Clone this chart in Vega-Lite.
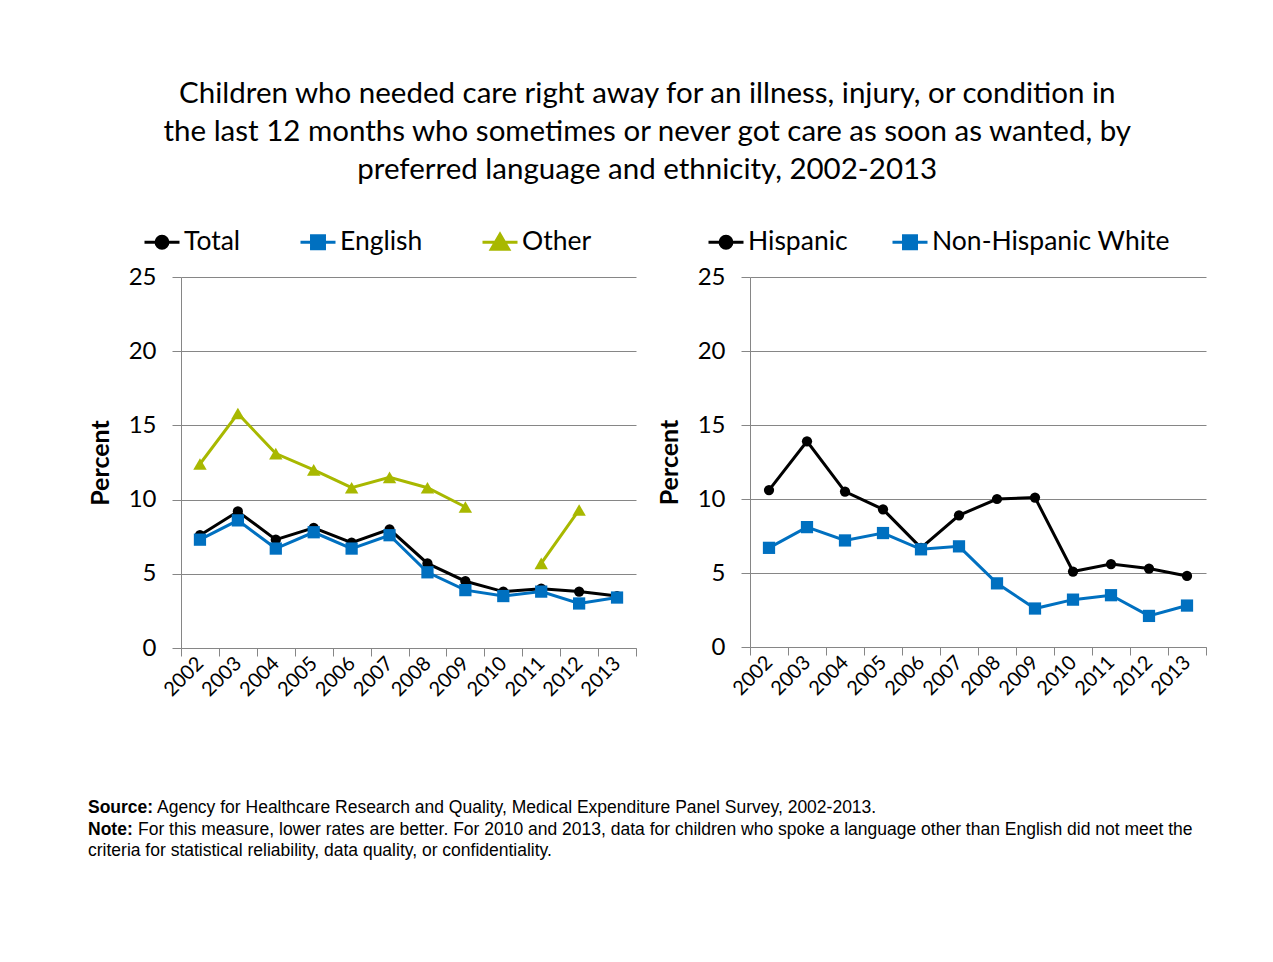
{
  "$schema": "https://vega.github.io/schema/vega-lite/v6.json",
  "background": "white",
  "padding": {"left": 88, "top": 78, "right": 10, "bottom": 10},
  "title": {
    "text": [
      "Children who needed care right away for an illness, injury, or condition in",
      "the last 12 months who sometimes or never got care as soon as wanted, by",
      "preferred language and ethnicity, 2002-2013"
    ],
    "font": "Lato",
    "fontSize": 29.5,
    "fontWeight": "normal",
    "color": "#000000",
    "anchor": "middle",
    "baseline": "top",
    "lineHeight": 38,
    "offset": 38
  },
  "config": {
    "view": {"stroke": null},
    "font": "Lato",
    "axis": {
      "labelFont": "Lato",
      "titleFont": "Lato",
      "labelColor": "#000000",
      "titleColor": "#000000",
      "gridColor": "#868686",
      "domainColor": "#868686",
      "tickColor": "#868686",
      "gridWidth": 1,
      "domainWidth": 1,
      "tickWidth": 1
    },
    "legend": {
      "labelFont": "Lato",
      "labelColor": "#000000"
    }
  },
  "datasets": {
    "language": [
      {"year": 2002, "series": "Total", "value": 7.6},
      {"year": 2003, "series": "Total", "value": 9.2},
      {"year": 2004, "series": "Total", "value": 7.3},
      {"year": 2005, "series": "Total", "value": 8.1},
      {"year": 2006, "series": "Total", "value": 7.1},
      {"year": 2007, "series": "Total", "value": 8.0},
      {"year": 2008, "series": "Total", "value": 5.7},
      {"year": 2009, "series": "Total", "value": 4.5},
      {"year": 2010, "series": "Total", "value": 3.8},
      {"year": 2011, "series": "Total", "value": 4.0},
      {"year": 2012, "series": "Total", "value": 3.8},
      {"year": 2013, "series": "Total", "value": 3.5},
      {"year": 2002, "series": "English", "value": 7.3},
      {"year": 2003, "series": "English", "value": 8.6},
      {"year": 2004, "series": "English", "value": 6.7},
      {"year": 2005, "series": "English", "value": 7.8},
      {"year": 2006, "series": "English", "value": 6.7},
      {"year": 2007, "series": "English", "value": 7.6},
      {"year": 2008, "series": "English", "value": 5.1},
      {"year": 2009, "series": "English", "value": 3.9},
      {"year": 2010, "series": "English", "value": 3.5},
      {"year": 2011, "series": "English", "value": 3.8},
      {"year": 2012, "series": "English", "value": 3.0},
      {"year": 2013, "series": "English", "value": 3.4},
      {"year": 2002, "series": "Other", "value": 12.4},
      {"year": 2003, "series": "Other", "value": 15.8},
      {"year": 2004, "series": "Other", "value": 13.1},
      {"year": 2005, "series": "Other", "value": 12.0},
      {"year": 2006, "series": "Other", "value": 10.8},
      {"year": 2007, "series": "Other", "value": 11.5},
      {"year": 2008, "series": "Other", "value": 10.8},
      {"year": 2009, "series": "Other", "value": 9.5},
      {"year": 2010, "series": "Other", "value": null},
      {"year": 2011, "series": "Other", "value": 5.7},
      {"year": 2012, "series": "Other", "value": 9.3},
      {"year": 2013, "series": "Other", "value": null}
    ],
    "ethnicity": [
      {"year": 2002, "series": "Hispanic", "value": 10.6},
      {"year": 2003, "series": "Hispanic", "value": 13.9},
      {"year": 2004, "series": "Hispanic", "value": 10.5},
      {"year": 2005, "series": "Hispanic", "value": 9.3},
      {"year": 2006, "series": "Hispanic", "value": 6.7},
      {"year": 2007, "series": "Hispanic", "value": 8.9},
      {"year": 2008, "series": "Hispanic", "value": 10.0},
      {"year": 2009, "series": "Hispanic", "value": 10.1},
      {"year": 2010, "series": "Hispanic", "value": 5.1},
      {"year": 2011, "series": "Hispanic", "value": 5.6},
      {"year": 2012, "series": "Hispanic", "value": 5.3},
      {"year": 2013, "series": "Hispanic", "value": 4.8},
      {"year": 2002, "series": "Non-Hispanic White", "value": 6.7},
      {"year": 2003, "series": "Non-Hispanic White", "value": 8.1},
      {"year": 2004, "series": "Non-Hispanic White", "value": 7.2},
      {"year": 2005, "series": "Non-Hispanic White", "value": 7.7},
      {"year": 2006, "series": "Non-Hispanic White", "value": 6.6},
      {"year": 2007, "series": "Non-Hispanic White", "value": 6.8},
      {"year": 2008, "series": "Non-Hispanic White", "value": 4.3},
      {"year": 2009, "series": "Non-Hispanic White", "value": 2.6},
      {"year": 2010, "series": "Non-Hispanic White", "value": 3.2},
      {"year": 2011, "series": "Non-Hispanic White", "value": 3.5},
      {"year": 2012, "series": "Non-Hispanic White", "value": 2.1},
      {"year": 2013, "series": "Non-Hispanic White", "value": 2.8}
    ]
  },
  "vconcat": [
    {
      "hconcat": [
        {
          "width": 455,
          "height": 371,
          "data": {"name": "language"},
          "layer": [
            {
              "mark": {"type": "line", "strokeWidth": 3, "invalid": "break-paths-show-domains"},
              "encoding": {
                "x": {
                  "field": "year", "type": "quantitative",
                  "scale": {"domain": [2001.5, 2013.5], "nice": false, "zero": false},
                  "axis": {
                    "orient": "bottom",
                    "values": [2001.5, 2002.5, 2003.5, 2004.5, 2005.5, 2006.5, 2007.5, 2008.5, 2009.5, 2010.5, 2011.5, 2012.5, 2013.5],
                    "labels": false, "grid": false, "domain": true, "ticks": true, "tickSize": 8, "title": null
                  }
                },
                "y": {
                  "field": "value", "type": "quantitative",
                  "scale": {"domain": [0, 25], "nice": false},
                  "axis": {
                    "values": [0, 5, 10, 15, 20, 25],
                    "grid": true, "title": "Percent", "titleFontSize": 25, "titleFontWeight": "bold",
                    "labelFontSize": 24, "tickSize": 9, "labelPadding": 16, "titlePadding": 15
                  }
                },
                "color": {
                  "field": "series", "type": "nominal",
                  "scale": {"domain": ["Total", "English", "Other"], "range": ["#000000", "#0070C0", "#A8B800"]},
                  "legend": {
                    "title": null, "orient": "none", "direction": "horizontal",
                    "legendX": -38, "legendY": -54,
                    "labelFontSize": 26.5, "labelOffset": 3, "columnPadding": 53, "labelLimit": 400,
                    "symbolSize": 1225, "symbolStrokeWidth": 3, "padding": 0,
                    "encode": {
                      "symbols": {
                        "update": {
                          "shape": {"signal": "datum.value === 'Total' ? 'M-1,0H1M0.34,0A0.34,0.34,0,1,1,-0.34,0A0.34,0.34,0,1,1,0.34,0Z' : datum.value === 'English' ? 'M-1,0H1M-0.37,-0.37H0.37V0.37H-0.37Z' : 'M-1,0H1M0,-0.46L0.5,0.4H-0.5Z'"},
                          "fill": {"signal": "datum.value === 'Total' ? '#000000' : datum.value === 'English' ? '#0070C0' : '#A8B800'"},
                          "stroke": {"signal": "datum.value === 'Total' ? '#000000' : datum.value === 'English' ? '#0070C0' : '#A8B800'"},
                          "strokeWidth": {"value": 3},
                          "opacity": {"value": 1}
                        }
                      }
                    }
                  }
                }
              }
            },
            {
              "transform": [{"filter": "datum.series === 'Total'"}],
              "mark": {"type": "point", "shape": "circle", "size": 105, "filled": true, "opacity": 1},
              "encoding": {
                "x": {
                  "field": "year", "type": "quantitative",
                  "axis": {
                    "orient": "bottom",
                    "values": [2002, 2003, 2004, 2005, 2006, 2007, 2008, 2009, 2010, 2011, 2012, 2013],
                    "format": "d", "labelAngle": -45, "labelAlign": "right", "labelBaseline": "middle",
                    "labelFontSize": 20, "labelPadding": 12, "labelOverlap": false, "labelFlush": false,
                    "ticks": false, "domain": false, "grid": false, "title": null
                  }
                },
                "y": {"field": "value", "type": "quantitative"},
                "color": {"field": "series", "type": "nominal", "legend": null}
              }
            },
            {
              "transform": [{"filter": "datum.series === 'English'"}],
              "mark": {"type": "point", "shape": "square", "size": 150, "filled": true, "opacity": 1},
              "encoding": {
                "x": {"field": "year", "type": "quantitative", "axis": null},
                "y": {"field": "value", "type": "quantitative"},
                "color": {"field": "series", "type": "nominal", "legend": null}
              }
            },
            {
              "transform": [{"filter": "datum.series === 'Other' && isValid(datum.value)"}],
              "mark": {"type": "point", "shape": "triangle-up", "size": 180, "filled": true, "opacity": 1},
              "encoding": {
                "x": {"field": "year", "type": "quantitative", "axis": null},
                "y": {"field": "value", "type": "quantitative"},
                "color": {"field": "series", "type": "nominal", "legend": null}
              }
            }
          ],
          "resolve": {"axis": {"x": "independent"}}
        },
        {
          "width": 456,
          "height": 370,
          "data": {"name": "ethnicity"},
          "layer": [
            {
              "mark": {"type": "line", "strokeWidth": 3},
              "encoding": {
                "x": {
                  "field": "year", "type": "quantitative",
                  "scale": {"domain": [2001.5, 2013.5], "nice": false, "zero": false},
                  "axis": {
                    "orient": "bottom",
                    "values": [2001.5, 2002.5, 2003.5, 2004.5, 2005.5, 2006.5, 2007.5, 2008.5, 2009.5, 2010.5, 2011.5, 2012.5, 2013.5],
                    "labels": false, "grid": false, "domain": true, "ticks": true, "tickSize": 8, "title": null
                  }
                },
                "y": {
                  "field": "value", "type": "quantitative",
                  "scale": {"domain": [0, 25], "nice": false},
                  "axis": {
                    "values": [0, 5, 10, 15, 20, 25],
                    "grid": true, "title": "Percent", "titleFontSize": 25, "titleFontWeight": "bold",
                    "labelFontSize": 24, "tickSize": 9, "labelPadding": 16, "titlePadding": 15
                  }
                },
                "color": {
                  "field": "series", "type": "nominal",
                  "scale": {"domain": ["Hispanic", "Non-Hispanic White"], "range": ["#000000", "#0070C0"]},
                  "legend": {
                    "title": null, "orient": "none", "direction": "horizontal",
                    "legendX": -43, "legendY": -54,
                    "labelFontSize": 26.5, "labelOffset": 3, "columnPadding": 38, "labelLimit": 400,
                    "symbolSize": 1225, "symbolStrokeWidth": 3, "padding": 0,
                    "encode": {
                      "symbols": {
                        "update": {
                          "shape": {"signal": "datum.value === 'Hispanic' ? 'M-1,0H1M0.34,0A0.34,0.34,0,1,1,-0.34,0A0.34,0.34,0,1,1,0.34,0Z' : 'M-1,0H1M-0.37,-0.37H0.37V0.37H-0.37Z'"},
                          "fill": {"signal": "datum.value === 'Hispanic' ? '#000000' : '#0070C0'"},
                          "stroke": {"signal": "datum.value === 'Hispanic' ? '#000000' : '#0070C0'"},
                          "strokeWidth": {"value": 3},
                          "opacity": {"value": 1}
                        }
                      }
                    }
                  }
                }
              }
            },
            {
              "transform": [{"filter": "datum.series === 'Hispanic'"}],
              "mark": {"type": "point", "shape": "circle", "size": 105, "filled": true, "opacity": 1},
              "encoding": {
                "x": {
                  "field": "year", "type": "quantitative",
                  "axis": {
                    "orient": "bottom",
                    "values": [2002, 2003, 2004, 2005, 2006, 2007, 2008, 2009, 2010, 2011, 2012, 2013],
                    "format": "d", "labelAngle": -45, "labelAlign": "right", "labelBaseline": "middle",
                    "labelFontSize": 20, "labelPadding": 12, "labelOverlap": false, "labelFlush": false,
                    "ticks": false, "domain": false, "grid": false, "title": null
                  }
                },
                "y": {"field": "value", "type": "quantitative"},
                "color": {"field": "series", "type": "nominal", "legend": null}
              }
            },
            {
              "transform": [{"filter": "datum.series === 'Non-Hispanic White'"}],
              "mark": {"type": "point", "shape": "square", "size": 150, "filled": true, "opacity": 1},
              "encoding": {
                "x": {"field": "year", "type": "quantitative", "axis": null},
                "y": {"field": "value", "type": "quantitative"},
                "color": {"field": "series", "type": "nominal", "legend": null}
              }
            }
          ],
          "resolve": {"axis": {"x": "independent"}}
        }
      ],
      "spacing": 20,
      "resolve": {
        "scale": {"color": "independent"},
        "legend": {"color": "independent"}
      }
    },
    {
      "width": 1000,
      "height": 43,
      "data": {
        "values": [
          {"row": 1, "lead": "Source:", "body": "Agency for Healthcare Research and Quality, Medical Expenditure Panel Survey, 2002-2013."},
          {"row": 2, "lead": "Note:", "body": "For this measure, lower rates are better. For 2010 and 2013, data for children who spoke a language other than English did not meet the"},
          {"row": 3, "lead": "", "body": "criteria for statistical reliability, data quality, or confidentiality."}
        ]
      },
      "encoding": {
        "y": {"field": "row", "type": "ordinal", "scale": {"type": "point", "padding": 0}, "axis": null}
      },
      "layer": [
        {
          "mark": {"type": "text", "align": "left", "baseline": "middle", "font": "Liberation Sans", "fontSize": 17.5, "fontWeight": "bold", "color": "#000000", "x": -93},
          "encoding": {"text": {"field": "lead"}}
        },
        {
          "transform": [{"filter": "datum.row == 1"}],
          "mark": {"type": "text", "align": "left", "baseline": "middle", "font": "Liberation Sans", "fontSize": 17.5, "color": "#000000", "x": -93, "dx": 69},
          "encoding": {"text": {"field": "body"}}
        },
        {
          "transform": [{"filter": "datum.row == 2"}],
          "mark": {"type": "text", "align": "left", "baseline": "middle", "font": "Liberation Sans", "fontSize": 17.5, "color": "#000000", "x": -93, "dx": 50},
          "encoding": {"text": {"field": "body"}}
        },
        {
          "transform": [{"filter": "datum.row == 3"}],
          "mark": {"type": "text", "align": "left", "baseline": "middle", "font": "Liberation Sans", "fontSize": 17.5, "color": "#000000", "x": -93},
          "encoding": {"text": {"field": "body"}}
        }
      ]
    }
  ],
  "spacing": 99
}
